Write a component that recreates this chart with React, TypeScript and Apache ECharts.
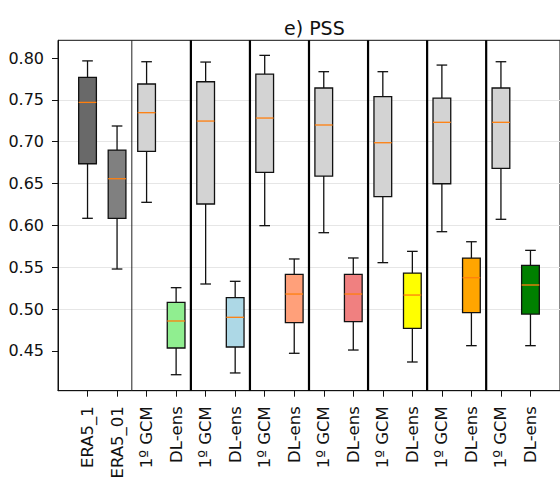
import React, { useEffect, useRef } from 'react';
import * as echarts from 'echarts';

// Category labels (index 0 and 17 are empty padding slots, xlim 0..17)
const categories = [
  '', 'ERA5_1', 'ERA5_01',
  '1º GCM', 'DL-ens', '1º GCM', 'DL-ens', '1º GCM', 'DL-ens', '1º GCM', 'DL-ens',
  '1º GCM', 'DL-ens', '1º GCM', 'DL-ens', '1º GCM', 'DL-ens', '',
];

// Box statistics for positions 1..16
const boxMin = [0.6085, 0.5479, 0.6276, 0.4216, 0.530, 0.4237, 0.5997, 0.4472, 0.5913, 0.4511, 0.5555, 0.4368, 0.5925, 0.4563, 0.6073, 0.4563];
const boxQ1 = [0.6737, 0.6085, 0.6885, 0.4535, 0.6256, 0.4547, 0.6634, 0.4838, 0.659, 0.485, 0.6343, 0.477, 0.6498, 0.4957, 0.6682, 0.4941];
const boxMedian = [0.747, 0.6558, 0.7347, 0.4858, 0.7247, 0.4902, 0.7283, 0.518, 0.720, 0.518, 0.6988, 0.5168, 0.7232, 0.5375, 0.7232, 0.5288];
const boxQ3 = [0.777, 0.690, 0.769, 0.5081, 0.7717, 0.5136, 0.7809, 0.5416, 0.7642, 0.5416, 0.7538, 0.5431, 0.7522, 0.561, 0.7642, 0.5523];
const boxMax = [0.7966, 0.7188, 0.7956, 0.5256, 0.7952, 0.5332, 0.8032, 0.5599, 0.7837, 0.5611, 0.7837, 0.569, 0.7916, 0.5805, 0.7956, 0.5702];
const boxColors = [
  '#696969', '#808080',
  '#d3d3d3', '#90ee90', '#d3d3d3', '#add8e6', '#d3d3d3', '#ffa07a', '#d3d3d3', '#f08080',
  '#d3d3d3', '#ffff00', '#d3d3d3', '#ffa500', '#d3d3d3', '#008000',
];

// Vertical separators between groups
const separators = [2.5, 4.5, 6.5, 8.5, 10.5, 12.5, 14.5];
const separatorWidths = [1, 2.2, 2.2, 2.2, 2.2, 2.2, 2.2];
const separatorColors = ['#222222', '#000000', '#000000', '#000000', '#000000', '#000000', '#000000'];

const yTicks = [0.45, 0.5, 0.55, 0.6, 0.65, 0.7, 0.75, 0.8];
const yMin = 0.4025;
const yMax = 0.8212;

const FONT = 'DejaVu Sans';

export default function App() {
  const ref = useRef<HTMLDivElement>(null);

  useEffect(() => {
    if (!ref.current) return;
    const chart = echarts.init(ref.current, undefined, { renderer: 'svg' });

    const boxData = boxMin.map((_, i) => [i + 1, boxMin[i], boxQ1[i], boxMedian[i], boxQ3[i], boxMax[i]]);
    const sepData = separators.map((s) => [s, yMin]);

    const option: any = {
      animation: false,
      backgroundColor: '#ffffff',
      title: {
        text: 'e) PSS',
        left: 279,
        top: 13,
        textStyle: { fontFamily: FONT, fontSize: 19, fontWeight: 'normal', color: '#111' },
      },
      grid: {
        left: 58,
        top: 40.3,
        width: 504,
        height: 350.4,
        show: true,
        borderColor: '#111',
        borderWidth: 1,
        backgroundColor: 'transparent',
      },
      xAxis: {
        type: 'category',
        data: categories,
        boundaryGap: false,
        axisLine: { show: true, lineStyle: { color: '#111', width: 1 } },
        axisTick: {
          show: true,
          length: 6,
          interval: (index: number) => index > 0 && index < categories.length - 1,
          lineStyle: { color: '#111', width: 1 },
        },
        axisLabel: {
          interval: 0,
          rotate: 90,
          fontFamily: FONT,
          fontSize: 16.5,
          color: '#111',
          margin: 15.5,
        },
        splitLine: { show: false },
      },
      yAxis: {
        type: 'value',
        min: yMin,
        max: yMax,
        splitNumber: 8,
        minInterval: 0.05,
        maxInterval: 0.05,
        axisLine: { show: true, lineStyle: { color: '#111', width: 1 } },
        axisTick: {
          show: true,
          length: 6,
          customValues: yTicks,
          lineStyle: { color: '#111', width: 1 },
        },
        axisLabel: {
          customValues: yTicks,
          formatter: (v: number) => v.toFixed(2),
          fontFamily: FONT,
          fontSize: 16,
          color: '#111',
          margin: 14,
        },
        splitLine: {
          show: true,
          showMinLine: false,
          showMaxLine: false,
          lineStyle: { color: '#e6e6e6', width: 1 },
        },
      },
      series: [
        {
          type: 'custom',
          name: 'separators',
          data: sepData,
          encode: { x: 0, y: 1 },
          silent: true,
          z: 3,
          renderItem: (params: any, api: any) => {
            const s = separators[params.dataIndex];
            const a = api.coord([Math.floor(s), yMin])[0];
            const b = api.coord([Math.ceil(s), yMin])[0];
            const x = (a + b) / 2;
            const cs = params.coordSys;
            return {
              type: 'line',
              shape: { x1: x, y1: cs.y, x2: x, y2: cs.y + cs.height },
              style: { stroke: separatorColors[params.dataIndex], lineWidth: separatorWidths[params.dataIndex] },
            };
          },
        },
        {
          type: 'custom',
          name: 'boxes',
          data: boxData,
          encode: { x: 0, y: [1, 2, 3, 4, 5] },
          z: 4,
          renderItem: (params: any, api: any) => {
            const i = params.dataIndex;
            const xi = api.value(0);
            const band = api.size([1, 0])[0];
            const hw = band * 0.3;
            const cw = band * 0.18;
            const pMin = api.coord([xi, api.value(1)]);
            const pQ1 = api.coord([xi, api.value(2)]);
            const pMed = api.coord([xi, api.value(3)]);
            const pQ3 = api.coord([xi, api.value(4)]);
            const pMax = api.coord([xi, api.value(5)]);
            const x = pMed[0];
            const ls = { stroke: '#111', lineWidth: 1.3 };
            return {
              type: 'group',
              children: [
                { type: 'line', shape: { x1: x, y1: pMax[1], x2: x, y2: pQ3[1] }, style: ls },
                { type: 'line', shape: { x1: x, y1: pQ1[1], x2: x, y2: pMin[1] }, style: ls },
                { type: 'line', shape: { x1: x - cw, y1: pMax[1], x2: x + cw, y2: pMax[1] }, style: ls },
                { type: 'line', shape: { x1: x - cw, y1: pMin[1], x2: x + cw, y2: pMin[1] }, style: ls },
                {
                  type: 'rect',
                  shape: { x: x - hw, y: pQ3[1], width: 2 * hw, height: pQ1[1] - pQ3[1] },
                  style: { fill: boxColors[i], stroke: '#111', lineWidth: 1.3 },
                },
                { type: 'line', shape: { x1: x - hw, y1: pMed[1], x2: x + hw, y2: pMed[1] }, style: { stroke: '#ff7f0e', lineWidth: 1.3 } },
              ],
            };
          },
        },
      ],
    };

    chart.setOption(option);
    return () => chart.dispose();
  }, []);

  return (
    <div
      ref={ref}
      style={{ position: 'fixed', left: 0, top: 0, width: 560, height: 482, overflow: 'hidden', background: '#fff' }}
    />
  );
}
